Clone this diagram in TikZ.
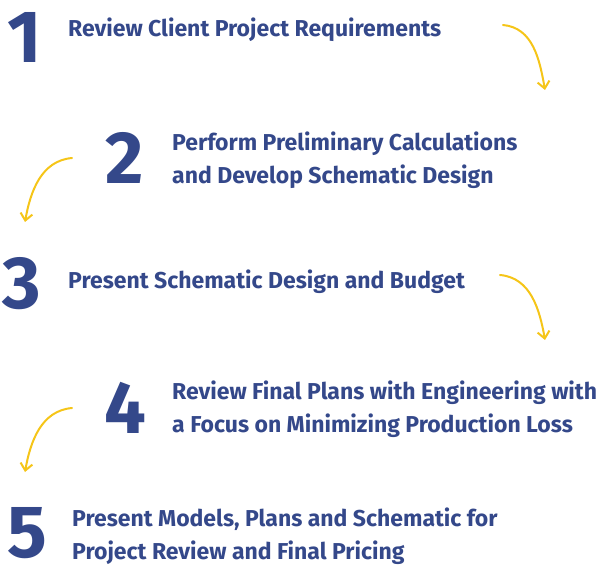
\documentclass[tikz,border=0pt]{standalone}
\usepackage{fontspec}
\setmainfont{Fira Sans}
\usetikzlibrary{arrows.meta}
\definecolor{navy}{HTML}{34488A}
\definecolor{gold}{HTML}{F5C518}
\begin{document}
\begin{tikzpicture}[x=1pt,y=-1pt,
  num/.style={text=navy,font=\fontsize{74}{74}\selectfont\bfseries,inner sep=0pt,text depth=0pt},
  lbl/.style={text=navy,font=\fontsize{23}{33}\selectfont\bfseries,anchor=west,align=left,inner sep=0pt},
  curv/.style={draw=gold,line width=2pt,line cap=round,-{Straight Barb[length=7pt,width=12pt,line width=2pt]}}]
\useasboundingbox (0,0) rectangle (600,569);
\node[num] (n1) at (25,37) {1};
\node[num] (n2) at (125,158) {2};
\node[num] (n3) at (22,283) {3};
\node[num] (n4) at (125,408) {4};
\node[num] (n5) at (27,532) {5};
\node[lbl] (t1) at (68,30) {Review Client Project Requirements};
\node[lbl] (t2) at (172,160) {Perform Preliminary Calculations\\and Develop Schematic Design};
\node[lbl] (t3) at (68,282) {Present Schematic Design and Budget};
\node[lbl] (t4) at (172,409) {Review Final Plans with Engineering with\\a Focus on Minimizing Production Loss};
\node[lbl] (t5) at (72,536) {Present Models, Plans and Schematic for\\Project Review and Final Pricing};
\coordinate (a1s) at (503,25); \coordinate (a1e) at (545,90);
\coordinate (a2s) at (72,158); \coordinate (a2e) at (25,222);
\coordinate (a3s) at (500,275); \coordinate (a3e) at (545,340);
\coordinate (a4s) at (72,408); \coordinate (a4e) at (25,472);
\draw[curv] (a1s) to[out=-5,in=100] (a1e);
\draw[curv] (a2s) to[out=185,in=80] (a2e);
\draw[curv] (a3s) to[out=-5,in=100] (a3e);
\draw[curv] (a4s) to[out=185,in=80] (a4e);
\end{tikzpicture}
\end{document}
